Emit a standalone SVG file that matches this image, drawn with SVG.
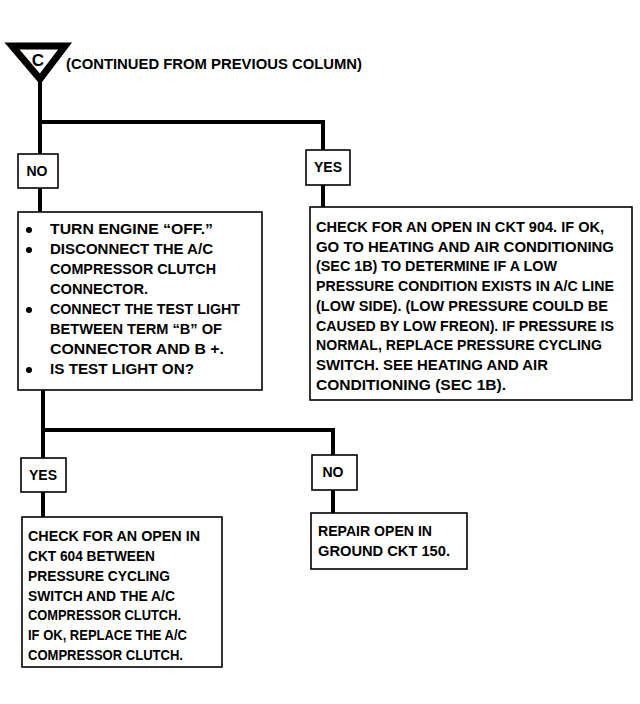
<svg xmlns="http://www.w3.org/2000/svg" width="640" height="704" viewBox="0 0 640 704">
<style>
.bg{fill:#fff}
.box{fill:#fff;stroke:#000;stroke-width:1.6}
.wire{fill:none;stroke:#000;stroke-width:4;stroke-linecap:square}
.t{font-family:"Liberation Sans",Arial,sans-serif;font-weight:bold;font-size:14px;fill:#000}
.lbl{font-family:"Liberation Sans",Arial,sans-serif;font-weight:bold;font-size:14px;fill:#000;text-anchor:middle}
</style>
<rect class="bg" width="640" height="704"/>
<g id="connectors">
<path class="wire" d="M40 78 V212"/>
<path class="wire" d="M40 122 H323 V207"/>
<path class="wire" d="M43 390 V517"/>
<path class="wire" d="M43 430 H333 V512"/>
</g>
<g id="start">
<polygon points="12,46 65,46 40,79" fill="#fff" stroke="#000" stroke-width="7" stroke-linejoin="miter"/>
<text x="38" y="66" class="lbl" style="font-size:17px">C</text>
<text x="66" y="69" class="t" textLength="296" lengthAdjust="spacingAndGlyphs">(CONTINUED FROM PREVIOUS COLUMN)</text>
</g>
<g id="no1">
<rect class="box" x="18" y="154" width="40" height="34"/>
<text x="37" y="176" class="lbl" textLength="21" lengthAdjust="spacingAndGlyphs">NO</text>
</g>
<g id="yes1">
<rect class="box" x="306" y="150" width="44" height="35"/>
<text x="328" y="172" class="lbl" textLength="28" lengthAdjust="spacingAndGlyphs">YES</text>
</g>
<g id="test">
<rect class="box" x="18" y="212" width="244" height="178"/>
<circle cx="29" cy="230" r="3"/>
<circle cx="29" cy="250" r="3"/>
<circle cx="29" cy="310" r="3"/>
<circle cx="29" cy="370" r="3"/>
<text class="t" x="50" y="234" textLength="163" lengthAdjust="spacingAndGlyphs">TURN ENGINE “OFF.”</text>
<text class="t" x="50" y="254" textLength="163" lengthAdjust="spacingAndGlyphs">DISCONNECT THE A/C</text>
<text class="t" x="50" y="274" textLength="166" lengthAdjust="spacingAndGlyphs">COMPRESSOR CLUTCH</text>
<text class="t" x="50" y="294" textLength="98" lengthAdjust="spacingAndGlyphs">CONNECTOR.</text>
<text class="t" x="50" y="314" textLength="190" lengthAdjust="spacingAndGlyphs">CONNECT THE TEST LIGHT</text>
<text class="t" x="50" y="334" textLength="172" lengthAdjust="spacingAndGlyphs">BETWEEN TERM “B” OF</text>
<text class="t" x="50" y="354" textLength="174" lengthAdjust="spacingAndGlyphs">CONNECTOR AND B +.</text>
<text class="t" x="50" y="374" textLength="144" lengthAdjust="spacingAndGlyphs">IS TEST LIGHT ON?</text>
</g>
<g id="check904">
<rect class="box" x="310" y="207" width="322" height="193"/>
<text class="t" x="316" y="232" textLength="288" lengthAdjust="spacingAndGlyphs">CHECK FOR AN OPEN IN CKT 904.  IF OK,</text>
<text class="t" x="316" y="252" textLength="298" lengthAdjust="spacingAndGlyphs">GO TO HEATING AND AIR CONDITIONING</text>
<text class="t" x="316" y="271" textLength="241" lengthAdjust="spacingAndGlyphs">(SEC 1B) TO DETERMINE IF A LOW</text>
<text class="t" x="316" y="291" textLength="298" lengthAdjust="spacingAndGlyphs">PRESSURE CONDITION EXISTS IN A/C LINE</text>
<text class="t" x="316" y="311" textLength="292" lengthAdjust="spacingAndGlyphs">(LOW SIDE).  (LOW PRESSURE COULD BE</text>
<text class="t" x="316" y="331" textLength="298" lengthAdjust="spacingAndGlyphs">CAUSED BY LOW FREON).  IF PRESSURE IS</text>
<text class="t" x="316" y="350" textLength="286" lengthAdjust="spacingAndGlyphs">NORMAL, REPLACE PRESSURE CYCLING</text>
<text class="t" x="316" y="370" textLength="232" lengthAdjust="spacingAndGlyphs">SWITCH.  SEE HEATING AND AIR</text>
<text class="t" x="316" y="390" textLength="190" lengthAdjust="spacingAndGlyphs">CONDITIONING (SEC 1B).</text>
</g>
<g id="yes2">
<rect class="box" x="21" y="458" width="45" height="34"/>
<text x="43" y="480" class="lbl" textLength="28" lengthAdjust="spacingAndGlyphs">YES</text>
</g>
<g id="no2">
<rect class="box" x="312" y="455" width="45" height="35"/>
<text x="333" y="477" class="lbl" textLength="21" lengthAdjust="spacingAndGlyphs">NO</text>
</g>
<g id="check604">
<rect class="box" x="22" y="517" width="200" height="150"/>
<text class="t" x="28" y="541" textLength="172" lengthAdjust="spacingAndGlyphs">CHECK FOR AN OPEN IN</text>
<text class="t" x="28" y="561" textLength="127" lengthAdjust="spacingAndGlyphs">CKT 604 BETWEEN</text>
<text class="t" x="28" y="581" textLength="142" lengthAdjust="spacingAndGlyphs">PRESSURE CYCLING</text>
<text class="t" x="28" y="601" textLength="147" lengthAdjust="spacingAndGlyphs">SWITCH AND THE A/C</text>
<text class="t" x="28" y="620" textLength="153" lengthAdjust="spacingAndGlyphs">COMPRESSOR CLUTCH.</text>
<text class="t" x="28" y="640" textLength="159" lengthAdjust="spacingAndGlyphs">IF OK, REPLACE THE A/C</text>
<text class="t" x="28" y="660" textLength="155" lengthAdjust="spacingAndGlyphs">COMPRESSOR CLUTCH.</text>
</g>
<g id="repair">
<rect class="box" x="311" y="513" width="156" height="56"/>
<text class="t" x="318" y="536" textLength="114" lengthAdjust="spacingAndGlyphs">REPAIR OPEN IN</text>
<text class="t" x="318" y="556" textLength="132" lengthAdjust="spacingAndGlyphs">GROUND CKT 150.</text>
</g>
</svg>
